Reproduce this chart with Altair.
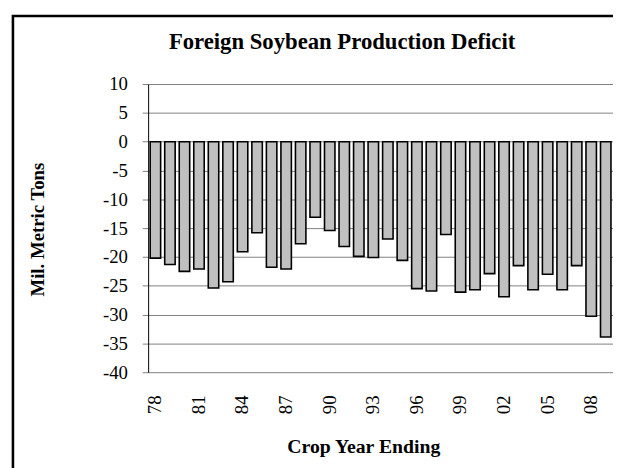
import altair as alt
import pandas as pd

# Crop year ending, two-digit labels
years = ["78", "79", "80", "81", "82", "83", "84", "85", "86", "87", "88", "89",
         "90", "91", "92", "93", "94", "95", "96", "97", "98", "99", "00", "01",
         "02", "03", "04", "05", "06", "07", "08", "09"]
deficit = [-20.2, -21.3, -22.5, -22.1, -25.4, -24.3, -19.1, -15.8, -21.8, -22.1,
           -17.7, -13.1, -15.4, -18.2, -19.9, -20.1, -16.9, -20.6, -25.5, -25.9,
           -16.1, -26.1, -25.7, -22.9, -26.9, -21.5, -25.7, -23.0, -25.7, -21.5,
           -30.3, -33.9]
shown_labels = ["78", "81", "84", "87", "90", "93", "96", "99", "02", "05", "08"]
y_ticks = [10, 5, 0, -5, -10, -15, -20, -25, -30, -35, -40]

df = pd.DataFrame({"year": years, "value": deficit})
FONT = "Liberation Serif"

bars = alt.Chart(df).mark_bar(
    fill="#C0C0C0", stroke="black", strokeWidth=1.6
).encode(
    x=alt.X("year:O", sort=years,
            scale=alt.Scale(paddingInner=0.28, paddingOuter=0.14),
            axis=alt.Axis(values=shown_labels, labelAngle=-90, ticks=False, tickSize=0,
                          domain=False, grid=False, labelPadding=23,
                          labelFont=FONT, labelFontSize=19, labelColor="black",
                          title="Crop Year Ending", titleFont=FONT, titleFontSize=20,
                          titleFontWeight="bold", titleColor="black",
                          titleX=218, titleY=81, titleAlign="center",
                          titleBaseline="alphabetic")),
    y=alt.Y("value:Q",
            scale=alt.Scale(domain=[-40, 10], nice=False, zero=True),
            axis=alt.Axis(values=y_ticks, grid=True, gridColor="#808080", gridWidth=1,
                          domain=True, domainColor="black", domainWidth=1,
                          ticks=True, tickSize=6, tickColor="#808080",
                          labelExpr="'' + datum.value",
                          labelPadding=15, labelFont=FONT, labelFontSize=19,
                          labelColor="black",
                          title="Mil. Metric Tons", titleFont=FONT, titleFontSize=19,
                          titleFontWeight="bold", titleColor="black",
                          titleX=-106, titleY=147, titleAngle=-90, titleAlign="center",
                          titleBaseline="alphabetic")),
)

frame = alt.Chart(pd.DataFrame({"a": [0]})).mark_rect(
    fill=None, stroke="black", strokeWidth=2.6
).encode(
    x=alt.value(-137), x2=alt.value(700),
    y=alt.value(-69), y2=alt.value(600),
)

chart = alt.layer(frame, bars).properties(
    width=471, height=292,
    autosize=alt.AutoSizeParams(type="none"),
    padding={"left": 142, "top": 74, "right": 0, "bottom": 94},
    title=alt.Title("Foreign Soybean Production Deficit", font=FONT, fontSize=23,
                    fontWeight="bold", color="black", anchor="middle", frame="group",
                    dx=-39, dy=58, offset=0, baseline="alphabetic"),
).configure_view(stroke=None)

chart.save("out.html", embed_options={"renderer": "svg", "actions": False})
